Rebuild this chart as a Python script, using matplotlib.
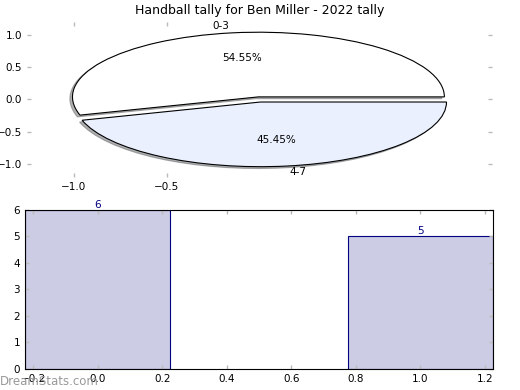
import matplotlib
matplotlib.use("Agg")
import matplotlib.pyplot as plt

# data
slice_labels = ["0-3", "4-7"]
slice_counts = [6, 5]
slice_colors = ["#FFFFFF", "#EAF0FD"]

bar_pos = [0, 1]
bar_counts = [6, 5]

TITLE = "Handball tally for Ben Miller - 2022 tally"
C_BAR = "#CCCCE4"
C_EDGE = "#000080"
C_TICK = "#BBBBBB"

plt.rcParams["font.size"] = 7.5

fig = plt.figure(figsize=(5.2, 3.9), dpi=100)

# ── top: pie
ax1 = fig.add_axes([0.052, 0.546, 0.894, 0.398])
wedges, texts, autos = ax1.pie(slice_counts, labels=slice_labels, colors=slice_colors,
                               explode=(0.04, 0.04),
                               shadow=dict(ox=-0.01, oy=-0.02, shade=0.6),
                               autopct="%.2f%%",
                               startangle=0, labeldistance=1.1, pctdistance=0.6,
                               wedgeprops=dict(edgecolor="black", linewidth=0.8),
                               textprops=dict(fontsize=7.5))
ax1.set_aspect("auto")
ax1.set_xlim(-1.25, 1.25)
ax1.set_ylim(-1.2, 1.2)
ax1.set_frame_on(False)
ax1.set_xticks([-1.0, -0.5])
ax1.set_yticks([-1.0, -0.5, 0.0, 0.5, 1.0])
ax1.tick_params(axis="both", direction="in", color=C_TICK, length=3, width=1,
                top=True, right=True, labelsize=7.5)
ax1.set_title(TITLE, fontsize=9, pad=6)

# ── bottom: bar
ax2 = fig.add_axes([0.048, 0.054, 0.9, 0.408])
ax2.bar(bar_pos, bar_counts, width=0.45, color=C_BAR, edgecolor=C_EDGE, linewidth=0.8)
for x, v in zip(bar_pos, bar_counts):
    ax2.text(x, v, str(v), ha="center", va="bottom", color=C_EDGE, fontsize=7.5)
ax2.set_xlim(-0.225, 1.225)
ax2.set_ylim(0, 6)
ax2.set_xticks([-0.2, 0.0, 0.2, 0.4, 0.6, 0.8, 1.0, 1.2])
ax2.tick_params(axis="both", direction="in", color=C_TICK, length=3, width=1,
                top=True, right=True, labelsize=7.5)

fig.text(0.0, 0.006, "DreamStats.com", color="#999999", fontsize=8.5, ha="left", va="bottom")

fig.savefig("out.png", dpi=100)
